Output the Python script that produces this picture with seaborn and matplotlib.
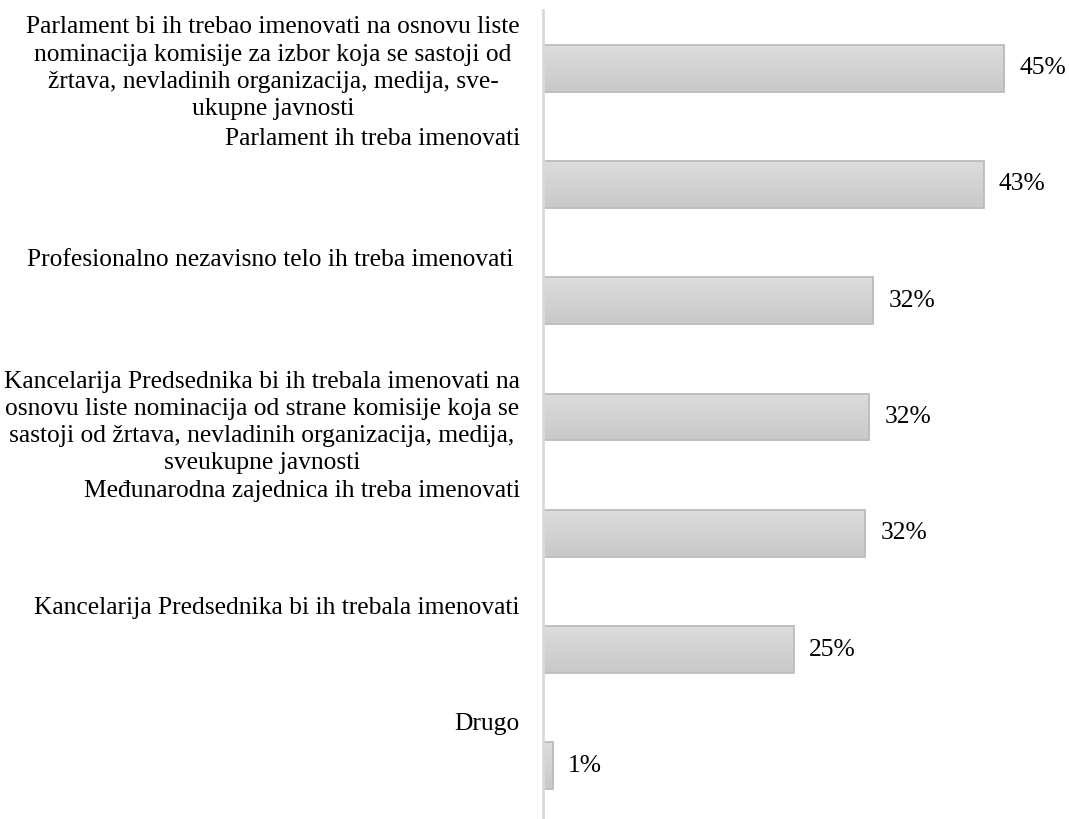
import numpy as np
import pandas as pd
import matplotlib
matplotlib.use("Agg")
import matplotlib.pyplot as plt
import seaborn as sns

categories = [
    "Parlament bi ih trebao imenovati na osnovu liste\nnominacija komisije za izbor koja se sastoji od\nžrtava, nevladinih organizacija, medija, sve-\nukupne javnosti",
    "Parlament ih treba imenovati",
    "Profesionalno nezavisno telo ih treba imenovati ",
    "Kancelarija Predsednika bi ih trebala imenovati na\nosnovu liste nominacija od strane komisije koja se\nsastoji od žrtava, nevladinih organizacija, medija,\nsveukupne javnosti",
    "Međunarodna zajednica ih treba imenovati",
    "Kancelarija Predsednika bi ih trebala imenovati",
    "Drugo",
]
values = [45.2, 43.2, 32.4, 32.0, 31.6, 24.6, 1.0]
value_labels = ["45%", "43%", "32%", "32%", "32%", "25%", "1%"]

sns.set_theme(style="white")
plt.rcParams["font.family"] = ["Liberation Serif", "DejaVu Serif"]

W, H = 1069, 819
fig = plt.figure(figsize=(W / 100, H / 100), dpi=100)
ax = fig.add_axes([543 / W, (819 - 824) / H, 526 / W, 814 / H])

df = pd.DataFrame({"cat": categories, "val": values})
sns.barplot(data=df, y="cat", x="val", orient="h", color="#d2d2d2",
            width=0.404, edgecolor="#bcbcbc", linewidth=1.3, ax=ax, saturation=1)

# vertical gradient fill on bars
grad = np.linspace(0, 1, 64).reshape(-1, 1)
cmap = matplotlib.colors.LinearSegmentedColormap.from_list("g", ["#dcdcdc", "#c9c9c9"])
for p in ax.patches:
    x0, y0 = p.get_x(), p.get_y()
    w, h = p.get_width(), p.get_height()
    im = ax.imshow(grad, extent=[x0, x0 + w, y0 + h, y0], aspect="auto",
                   cmap=cmap, zorder=p.get_zorder() - 0.1, interpolation="bicubic")
    im.set_clip_path(p)
    p.set_facecolor("none")
ax.set_xlim(0, 526 / 10.2)
ax.set_ylim(6.5, -0.5)

for s in ["top", "right", "bottom"]:
    ax.spines[s].set_visible(False)
ax.spines["left"].set_color("#d9d9d9")
ax.spines["left"].set_linewidth(2)
ax.set_xticks([])
ax.set_yticks([])
ax.set_xlabel("")
ax.set_ylabel("")

fs = 18.4
# category labels (Excel-style placement, offsets in band units)
label_offsets = [0.0, -0.39, -0.35, 0.05, -0.36, -0.36, -0.36]
for i, (c, off) in enumerate(zip(categories, label_offsets)):
    ax.annotate(c, xy=(0, i + off), xycoords=("axes fraction", "data"),
                xytext=(-23, 0), textcoords="offset pixels",
                ha="right", va="center", multialignment="center",
                fontsize=fs, linespacing=1.3, color="#000000")

for i, (v, lab) in enumerate(zip(values, value_labels)):
    ax.annotate(lab, xy=(v, i), xytext=(15, 0), textcoords="offset pixels",
                ha="left", va="center", fontsize=fs, color="#000000")

fig.savefig("out.png", dpi=100)
